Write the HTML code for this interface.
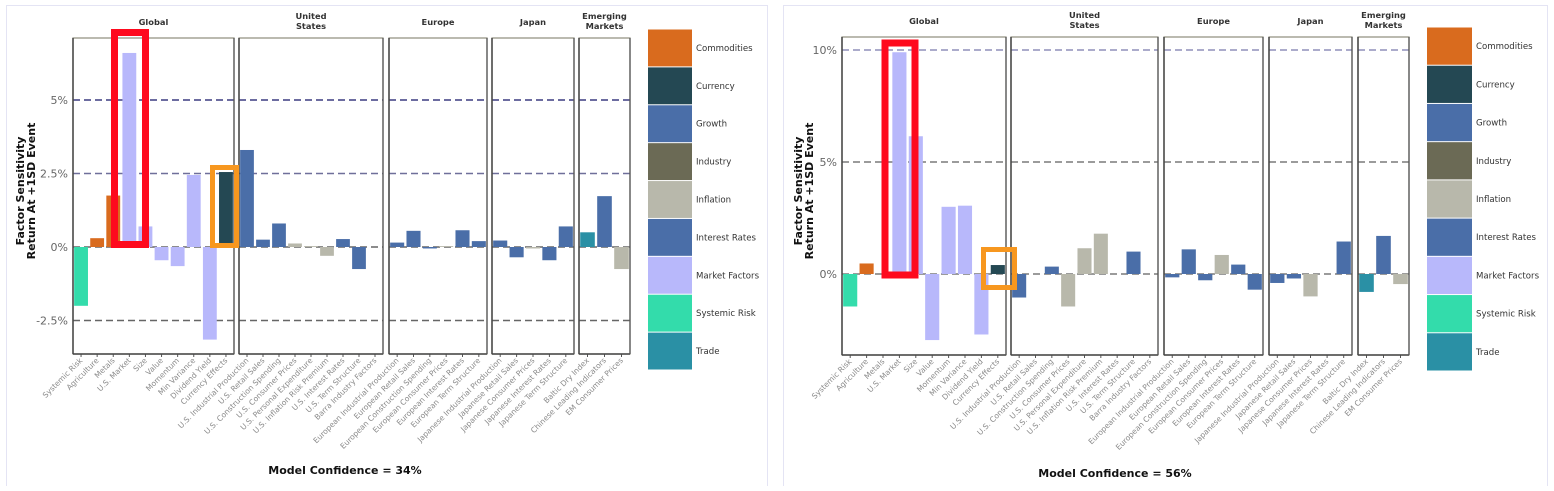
<!DOCTYPE html>
<html><head><meta charset="utf-8">
<style>
body{margin:0;background:#fff;width:1554px;height:486px;overflow:hidden;font-family:"Liberation Sans","DejaVu Sans",sans-serif;}
svg text{font-family:"DejaVu Sans","Liberation Sans",sans-serif;}
</style></head>
<body>
<svg id="root" width="1554" height="486" viewBox="0 0 1554 486" xmlns="http://www.w3.org/2000/svg">
<rect x="6.5" y="5.5" width="761" height="481" fill="#fff" stroke="#e4e4f4"/>
<rect x="783.5" y="5.5" width="764" height="481" fill="#fff" stroke="#e4e4f4"/>
</svg>
<script>
const regions = ["Global","United States","Europe","Japan","Emerging Markets"];
const catsGlobal = ["Systemic Risk","Agriculture","Metals","U.S. Market","Size","Value","Momentum","Min Variance","Dividend Yield","Currency Effects"];
const groupsGlobal = ["Systemic Risk","Commodities","Commodities","Market Factors","Market Factors","Market Factors","Market Factors","Market Factors","Market Factors","Currency"];
const catsUS = ["U.S. Industrial Production","U.S. Retail Sales","U.S. Construction Spending","U.S. Consumer Prices","U.S. Personal Expenditure","U.S. Inflation Risk Premium","U.S. Interest Rates","U.S. Term Structure","Barra Industry Factors"];
const groupsUS = ["Growth","Growth","Growth","Inflation","Inflation","Inflation","Interest Rates","Interest Rates","Industry"];
const catsEU = ["European Industrial Production","European Retail Sales","European Construction Spending","European Consumer Prices","European Interest Rates","European Term Structure"];
const groupsEU = ["Growth","Growth","Growth","Inflation","Interest Rates","Interest Rates"];
const catsJP = ["Japanese Industrial Production","Japanese Retail Sales","Japanese Consumer Prices","Japanese Interest Rates","Japanese Term Structure"];
const groupsJP = ["Growth","Growth","Inflation","Interest Rates","Interest Rates"];
const catsEM = ["Baltic Dry Index","Chinese Leading Indicators","EM Consumer Prices"];
const groupsEM = ["Trade","Growth","Inflation"];

const leftGlobal = [-2.0,0.3,1.75,6.6,0.7,-0.45,-0.65,2.45,-3.15,2.55];
const leftUS = [3.3,0.25,0.8,0.12,0.03,-0.3,0.27,-0.75,0];
const leftEU = [0.15,0.55,-0.05,0.03,0.57,0.2];
const leftJP = [0.22,-0.35,-0.05,-0.45,0.7];
const leftEM = [0.5,1.73,-0.75];
const leftTicks = [-2.5,0,2.5,5];
const leftConfidence = "Model Confidence = 34%";

const rightGlobal = [-1.45,0.47,0,9.9,6.15,-2.95,3.0,3.05,-2.7,0.4];
const rightUS = [-1.05,0,0.33,-1.45,1.15,1.8,0,1.0,0];
const rightEU = [-0.15,1.1,-0.28,0.85,0.42,-0.7];
const rightJP = [-0.4,-0.2,-1.0,0,1.45];
const rightEM = [-0.8,1.7,-0.45];
const rightTicks = [0,5,10];
const rightConfidence = "Model Confidence = 56%";

const legendNames = ["Commodities","Currency","Growth","Industry","Inflation","Interest Rates","Market Factors","Systemic Risk","Trade"];
const legendColors = ["#d96b1e","#244853","#4a6ea8","#6b6a55","#b8b8ab","#4a6ea8","#b8b8fb","#33dcab","#2a90a5"];

const NS="http://www.w3.org/2000/svg";
const root=document.getElementById('root');
function mk(tag,attrs,parent){const e=document.createElementNS(NS,tag);for(const k in attrs)e.setAttribute(k,attrs[k]);(parent||root).appendChild(e);return e;}
function colorOf(g){return legendColors[legendNames.indexOf(g)];}

function drawChart(cfg){
  const g=mk('g',{});
  
  
  const y=v=>cfg.zeroY - v*cfg.pxPer;
  const cats=[catsGlobal,catsUS,catsEU,catsJP,catsEM];
  const groups=[groupsGlobal,groupsUS,groupsEU,groupsJP,groupsEM];
  // y-axis ticks
  cfg.ticks.forEach(t=>{
    const tx=mk('text',{x:cfg.panels[0][0]-5,y:y(t)+4,'text-anchor':'end','font-size':11,fill:'#666'},g);
    tx.textContent=t+'%';
    
    
  });
  cfg.panels.forEach((p,pi)=>{
    const [x0,x1]=p;
    const pg=mk('g',{},g);
    
    
    // gridlines
    cfg.ticks.forEach(t=>{
      const ln=mk('line',{x1:x0,x2:x1,y1:y(t),y2:y(t),stroke:cfg.gridColor(t),'stroke-width':1.6,'stroke-dasharray':'7,4'},pg);
      
      
    });
    const n=cats[pi].length, slot=(x1-x0)/n, bw=slot*0.86;
    cats[pi].forEach((c,i)=>{
      const cx=x0+(i+0.5)*slot;
      const v=cfg.values[pi][i];
      const r=mk('rect',{x:cx-bw/2,y:Math.min(y(v),y(0)),width:bw,height:Math.abs(y(v)-y(0)),fill:colorOf(groups[pi][i])},pg);
      
      
      mk('line',{x1:cx,x2:cx,y1:cfg.bottom,y2:cfg.bottom+3,stroke:'#555','stroke-width':1},pg);
      const lt=mk('text',{x:cx+2,y:cfg.bottom+7,'text-anchor':'end','font-size':7.6,fill:'#8a8a8a',transform:`rotate(-45 ${cx+2} ${cfg.bottom+7})`},pg);
      lt.textContent=c;
      
      
    });
    const fr=mk('rect',{x:x0,y:cfg.top,width:x1-x0,height:cfg.bottom-cfg.top,fill:'none',stroke:'#8e8d7c','stroke-width':1.2},pg);
    
    
    mk('line',{x1:x0,x2:x0,y1:cfg.top,y2:cfg.bottom,stroke:'#444','stroke-width':1.5},pg);
    mk('line',{x1:x0,x2:x1,y1:cfg.bottom,y2:cfg.bottom,stroke:'#444','stroke-width':1.5},pg);
    mk('line',{x1:x1,x2:x1,y1:cfg.top,y2:cfg.bottom,stroke:'#555','stroke-width':1.3},pg);
    const title=regions[pi];
    const lines = title.includes(' ') ? title.split(' ') : [title];
    const cx=(x0+x1)/2;
    lines.forEach((l,li)=>{
      const t=mk('text',{x:cx,y:lines.length>1?cfg.top-19+li*10:cfg.top-13,'text-anchor':'middle','font-size':8.3,'font-weight':'bold',fill:'#333'},pg);
      t.textContent=l;
      
      
    });
  });
  // y-axis title
  const ya=mk('text',{transform:`translate(${cfg.ytx},${(cfg.top+cfg.bottom)/2-5}) rotate(-90)`,'text-anchor':'middle','font-size':11,'font-weight':'bold',fill:'#111'},g);
  
  
  const t1=mk('tspan',{x:0,dy:0},ya);t1.textContent='Factor Sensitivity';
  const t2=mk('tspan',{x:0,dy:11},ya);t2.textContent='Return At +1SD Event';
  // confidence
  const mc=mk('text',{x:cfg.confX,y:cfg.confY,'text-anchor':'middle','font-size':11,'font-weight':'bold',fill:'#111'},g);
  mc.textContent=cfg.conf;
  
  
  // legend
  const lg=mk('g',{},g);
  
  
  const h=(cfg.legY1-cfg.legY0)/legendNames.length;
  legendNames.forEach((nm,i)=>{
    const r=mk('rect',{x:cfg.legX,y:cfg.legY0+i*h+0.5,width:cfg.legW,height:h-1,fill:legendColors[i]},lg);
    
    
    const t=mk('text',{x:cfg.legX+cfg.legW+4,y:cfg.legY0+i*h+h/2+3,'font-size':8.6,fill:'#333'},lg);
    t.textContent=nm;
    
    
  });
  // highlight boxes
  cfg.boxes.forEach(b=>{
    const r=mk('rect',{x:b[0],y:b[1],width:b[2],height:b[3],fill:'none',stroke:b[4],'stroke-width':b[5]},g);
    
    
  });
}

drawChart({name:'left-chart',values:[leftGlobal,leftUS,leftEU,leftJP,leftEM],ticks:leftTicks,conf:leftConfidence,
  zeroY:247,pxPer:29.4,top:38,bottom:354,
  panels:[[73,234],[239,383],[389,487],[492,574],[579,630]],
  gridColor:t=>t===5?'#3c3c80':(t===2.5?'#6f6f9a':'#666'),
  ytx:24,confX:345,confY:474,legX:648,legW:44,legY0:29,legY1:370,
  boxes:[[114.5,32.5,31,212,'#fe0a1e',7,'red-highlight-box'],[212.5,167.5,24,78,'#f7971f',5,'orange-highlight-box']]});

drawChart({name:'right-chart',values:[rightGlobal,rightUS,rightEU,rightJP,rightEM],ticks:rightTicks,conf:rightConfidence,
  zeroY:274,pxPer:22.4,top:37,bottom:355,
  panels:[[842,1006],[1011,1158],[1164,1263],[1269,1352],[1358,1409]],
  gridColor:t=>t===10?'#8f8fba':'#7a7a7a',
  ytx:802,confX:1115,confY:477,legX:1427,legW:45,legY0:27,legY1:371,
  boxes:[[885,43,30,232,'#fe0a1e',7,'red-highlight-box'],[983.5,249.5,31,38,'#f7971f',5,'orange-highlight-box']]});
</script>
</body></html>
